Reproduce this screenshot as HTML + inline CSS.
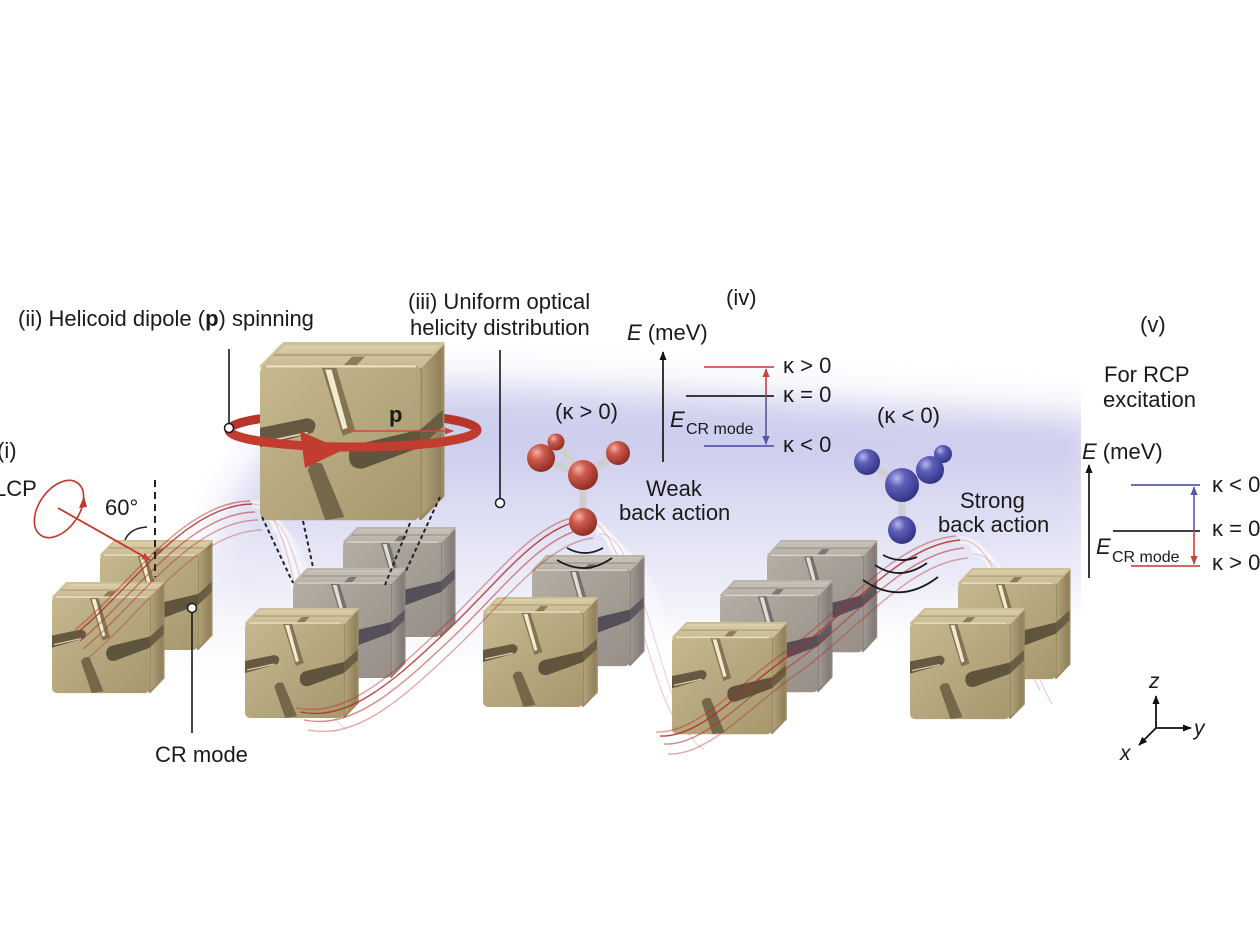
<!DOCTYPE html>
<html><head><meta charset="utf-8"><style>html,body{margin:0;padding:0;background:#fff}svg{display:block}</style></head>
<body>
<svg width="1260" height="946" viewBox="0 0 1260 946" xmlns="http://www.w3.org/2000/svg" xmlns:xlink="http://www.w3.org/1999/xlink" font-family="'Liberation Sans', Arial, sans-serif" fill="#1a1a1a">
<defs>
 <linearGradient id="cF" x1="0" y1="0" x2="1" y2="1"><stop offset="0" stop-color="#c6b88f"/><stop offset="1" stop-color="#a6976d"/></linearGradient>
 <linearGradient id="cT" x1="0" y1="0" x2="0" y2="1"><stop offset="0" stop-color="#dbd0ab"/><stop offset="1" stop-color="#c8ba92"/></linearGradient>
 <linearGradient id="cR" x1="0" y1="0" x2="1" y2="0"><stop offset="0" stop-color="#b3a47b"/><stop offset="1" stop-color="#8c7d57"/></linearGradient>
 <radialGradient id="rs" cx="0.35" cy="0.3" r="0.75"><stop offset="0" stop-color="#f2b0a4"/><stop offset="0.35" stop-color="#cd5b4d"/><stop offset="1" stop-color="#8a2a22"/></radialGradient>
 <radialGradient id="bs" cx="0.35" cy="0.3" r="0.75"><stop offset="0" stop-color="#b4b6ee"/><stop offset="0.35" stop-color="#5d5fb8"/><stop offset="1" stop-color="#2f3183"/></radialGradient>
 <linearGradient id="hz" gradientUnits="userSpaceOnUse" x1="0" y1="360" x2="0" y2="670">
  <stop offset="0" stop-color="#c4c4ea" stop-opacity="0.5"/>
  <stop offset="0.22" stop-color="#c4c4ea" stop-opacity="0.9"/>
  <stop offset="0.45" stop-color="#d0d0ef" stop-opacity="0.8"/>
  <stop offset="0.75" stop-color="#e3e3f5" stop-opacity="0.6"/>
  <stop offset="1" stop-color="#f6f6fc" stop-opacity="0.1"/>
 </linearGradient>
 <filter id="blur" x="-20%" y="-30%" width="140%" height="160%"><feGaussianBlur stdDeviation="18"/></filter>
 <filter id="gray"><feColorMatrix type="matrix" values="0.572 0.246 0.062 0 0  0.132 0.686 0.062 0 0  0.132 0.246 0.502 0 0.04  0 0 0 1 0"/></filter>
 <clipPath id="hc"><rect x="0" y="0" width="1081" height="946"/></clipPath>
 <marker id="aK" viewBox="0 0 10 10" refX="9" refY="5" markerWidth="9" markerHeight="9" markerUnits="userSpaceOnUse" orient="auto"><path d="M0,1 L10,5 L0,9 z" fill="#111"/></marker>
 <marker id="aR" viewBox="0 0 10 10" refX="9" refY="5" markerWidth="9" markerHeight="9" markerUnits="userSpaceOnUse" orient="auto"><path d="M0,1 L10,5 L0,9 z" fill="#c8433a"/></marker>
 <marker id="aB" viewBox="0 0 10 10" refX="9" refY="5" markerWidth="9" markerHeight="9" markerUnits="userSpaceOnUse" orient="auto"><path d="M0,1 L10,5 L0,9 z" fill="#5456a8"/></marker>

 <g id="cube">
  <path d="M101,15 L115,1 L115,95 L101,109 Z" fill="url(#cR)" stroke="#9a8b63" stroke-width="2" stroke-linejoin="round"/>
  <path d="M1,15 L15,1 L115,1 L101,15 Z" fill="url(#cT)" stroke="#cdbf97" stroke-width="2" stroke-linejoin="round"/>
  <rect x="0" y="14" width="101" height="96" rx="5" fill="url(#cF)"/>
  <path d="M9,8 L108,8" stroke="#b3a47b" stroke-width="1.5"/>
  <path d="M52,15 L58,9 L66,9 L60,15 Z" fill="#8c7d58"/>
  <path d="M39,16 L48,16 L60,55 L52,58 Z" fill="#847551"/>
  <path d="M41,17 L45,17 L55,53 L52,54 Z" fill="#f2ead0"/>
  <path d="M0,53 L30,47 Q38,49 33,56 L0,65 Z" fill="#655941"/>
  <path d="M2,62 L30,56" stroke="#d9cfae" stroke-width="1.2"/>
  <path d="M56,72 Q55,65 62,63 L101,54 L101,65 L65,78 Q57,79 56,72 Z" fill="#5f543c"/>
  <path d="M101,54 L115,42 L115,52 L101,65 Z" fill="#695d43"/>
  <path d="M30,79 Q32,73 39,75 L53,108 L41,110 Z" fill="#74674a"/>
  <path d="M4,15 L98,15" stroke="#e8dfc0" stroke-width="1.5"/>
 </g>

 <path id="r1" d="M77,633 C130,590 185,505 252,504"/>
 <path id="r2" d="M300,712 C350,722 395,680 450,628 C500,580 540,525 585,520"/>
 <path id="r3" d="M660,736 C700,738 740,690 790,655 C850,612 900,545 960,540"/>
 <path id="f1" d="M252,504 C300,502 300,700 335,716"/>
 <path id="f2" d="M585,520 C630,516 650,720 690,735"/>
 <path id="f3" d="M960,540 C1000,538 1010,640 1040,690"/>
</defs>

<rect width="1260" height="946" fill="#fff"/>

<!-- haze -->
<g clip-path="url(#hc)">
 <path d="M160,660 L230,500 L290,425 L440,380 L700,392 L1100,418 L1100,595 L800,625 L500,650 L300,665 Z" fill="url(#hz)" filter="url(#blur)"/>
</g>

<!-- faint falling ribbons -->
<g fill="none">
 <use href="#f1" stroke="#fff" stroke-width="8" opacity=".45"/>
 <use href="#f1" transform="translate(10,12)" stroke="#fff" stroke-width="8" opacity=".4"/>
 <use href="#f1" transform="translate(20,24)" stroke="#fff" stroke-width="8" opacity=".35"/>
 <use href="#f2" stroke="#fff" stroke-width="8" opacity=".5"/>
 <use href="#f2" transform="translate(12,12)" stroke="#fff" stroke-width="8" opacity=".45"/>
 <use href="#f2" transform="translate(24,24)" stroke="#fff" stroke-width="8" opacity=".4"/>
 <use href="#f2" transform="translate(36,36)" stroke="#fff" stroke-width="8" opacity=".35"/>
 <use href="#f3" stroke="#fff" stroke-width="8" opacity=".45"/>
 <use href="#f3" transform="translate(12,12)" stroke="#fff" stroke-width="8" opacity=".4"/>
 <use href="#f1" stroke="#c04040" stroke-width="1" opacity=".3"/>
 <use href="#f1" transform="translate(10,12)" stroke="#c04040" stroke-width="1" opacity=".25"/>
 <use href="#f2" stroke="#c04040" stroke-width="1" opacity=".3"/>
 <use href="#f2" transform="translate(14,14)" stroke="#c04040" stroke-width="1" opacity=".25"/>
 <use href="#f3" stroke="#c04040" stroke-width="1" opacity=".35"/>
 <use href="#f3" transform="translate(12,14)" stroke="#c04040" stroke-width="1" opacity=".3"/>
</g>

<!-- back cubes -->
<use href="#cube" transform="translate(100,540) scale(0.97,1)"/>
<use href="#cube" transform="translate(343,527) scale(0.97,1)" filter="url(#gray)"/>
<use href="#cube" transform="translate(293,568) scale(0.97,1)" filter="url(#gray)"/>
<use href="#cube" transform="translate(532,555) scale(0.97,1.01)" filter="url(#gray)"/>
<use href="#cube" transform="translate(767,540) scale(0.95,1.02)" filter="url(#gray)"/>
<use href="#cube" transform="translate(720,580) scale(0.97,1.02)" filter="url(#gray)"/>
<use href="#cube" transform="translate(958,568) scale(0.97,1.01)"/>

<!-- front cubes -->
<use href="#cube" transform="translate(52,582) scale(0.97,1.01)"/>
<use href="#cube" transform="translate(245,608) scale(0.98,1)"/>
<use href="#cube" transform="translate(483,597) scale(0.99,1)"/>
<use href="#cube" transform="translate(672,622) scale(0.99,1.02)"/>
<use href="#cube" transform="translate(910,608) scale(0.99,1.01)"/>

<!-- ring back + big cube + ring front -->
<ellipse cx="353" cy="430" rx="124" ry="17" fill="none" stroke="#b8352a" stroke-width="9"/>
<use href="#cube" transform="translate(260,342) scale(1.59,1.62)"/>
<path d="M229,430 A124,17 0 0,0 477,430" fill="none" stroke="#c23d2f" stroke-width="9"/>
<polygon points="300,431 305,468 343,450" fill="#c23d2f"/>
<line x1="347" y1="431" x2="453" y2="431" stroke="#cf4a3c" stroke-width="1.6" marker-end="url(#aR)"/>
<text x="389" y="422" font-size="22" font-weight="bold">p</text>

<!-- dashed connectors -->
<g stroke="#222" stroke-width="2" stroke-dasharray="4 3">
 <line x1="262" y1="517" x2="293" y2="583"/>
 <line x1="303" y1="521" x2="313" y2="567"/>
 <line x1="410" y1="523" x2="385" y2="585"/>
 <line x1="440" y1="497" x2="405" y2="573"/>
</g>

<!-- rising red wave bundles -->
<g fill="none" stroke="#b52a25" stroke-width="1.4">
 <use href="#r1" opacity=".85"/>
 <use href="#r1" transform="translate(3,8)" opacity=".55"/>
 <use href="#r1" transform="translate(6,16)" opacity=".45"/>
 <use href="#r1" transform="translate(10,26)" opacity=".35"/>
 <use href="#r1" transform="translate(-2,-3)" opacity=".5"/>
 <use href="#r2" opacity=".85"/>
 <use href="#r2" transform="translate(4,8)" opacity=".55"/>
 <use href="#r2" transform="translate(8,18)" opacity=".4"/>
 <use href="#r2" transform="translate(-4,-4)" opacity=".45"/>
 <use href="#r3" opacity=".85"/>
 <use href="#r3" transform="translate(4,8)" opacity=".55"/>
 <use href="#r3" transform="translate(8,18)" opacity=".4"/>
 <use href="#r3" transform="translate(-4,-4)" opacity=".45"/>
</g>

<!-- red molecule -->
<g stroke="#cfcfcf" stroke-width="7" stroke-linecap="round">
 <line x1="583" y1="475" x2="541" y2="458"/>
 <line x1="583" y1="475" x2="556" y2="442"/>
 <line x1="583" y1="475" x2="618" y2="453"/>
 <line x1="583" y1="475" x2="583" y2="522"/>
</g>
<circle cx="556" cy="442" r="8.5" fill="url(#rs)"/>
<circle cx="618" cy="453" r="12" fill="url(#rs)"/>
<circle cx="541" cy="458" r="14" fill="url(#rs)"/>
<circle cx="583" cy="475" r="15" fill="url(#rs)"/>
<circle cx="583" cy="522" r="14" fill="url(#rs)"/>

<!-- blue molecule -->
<g stroke="#cfcfcf" stroke-width="7" stroke-linecap="round">
 <line x1="902" y1="485" x2="867" y2="462"/>
 <line x1="902" y1="485" x2="930" y2="470"/>
 <line x1="902" y1="485" x2="902" y2="530"/>
</g>
<circle cx="943" cy="454" r="9" fill="url(#bs)"/>
<circle cx="930" cy="470" r="14" fill="url(#bs)"/>
<circle cx="867" cy="462" r="13" fill="url(#bs)"/>
<circle cx="902" cy="485" r="17" fill="url(#bs)"/>
<circle cx="902" cy="530" r="14" fill="url(#bs)"/>

<!-- back-action arcs -->
<g fill="none" stroke="#1a1a1a" stroke-width="1.8">
 <path d="M567,548 Q585,558 603,548"/>
 <path d="M557,560 Q585,577 612,558"/>
 <path d="M883,555 Q900,564 917,557"/>
 <path d="M875,565 Q900,582 927,563"/>
 <path d="M863,580 Q900,606 938,577"/>
</g>

<!-- leader lines -->
<g stroke="#1a1a1a" stroke-width="1.6">
 <line x1="229" y1="349" x2="229" y2="424"/>
 <line x1="500" y1="350" x2="500" y2="499"/>
 <line x1="192" y1="612" x2="192" y2="733"/>
</g>
<g fill="#fff" stroke="#1a1a1a" stroke-width="1.5">
 <circle cx="229" cy="428" r="4.5"/>
 <circle cx="500" cy="503" r="4.5"/>
 <circle cx="192" cy="608" r="4.5"/>
</g>

<!-- (i) LCP -->
<ellipse cx="59" cy="509" rx="32" ry="20" transform="rotate(-55 59 509)" fill="none" stroke="#c0392b" stroke-width="1.6"/>
<polygon points="79,508 87,507 84,496" fill="#c0392b"/>
<line x1="58" y1="508" x2="150" y2="560" stroke="#c0392b" stroke-width="1.8" marker-end="url(#aR)"/>
<line x1="155" y1="480" x2="155" y2="577" stroke="#222" stroke-width="2" stroke-dasharray="7 5"/>
<path d="M125,540 Q130,528 147,527" fill="none" stroke="#222" stroke-width="1.6"/>

<!-- energy diagram (iv) -->
<line x1="663" y1="462" x2="663" y2="352" stroke="#222" stroke-width="1.8" marker-end="url(#aK)"/>
<line x1="704" y1="367" x2="774" y2="367" stroke="#d05050" stroke-width="1.8"/>
<line x1="686" y1="396" x2="774" y2="396" stroke="#222" stroke-width="1.8"/>
<line x1="704" y1="446" x2="774" y2="446" stroke="#5a5ab0" stroke-width="1.8"/>
<line x1="766" y1="396" x2="766" y2="369" stroke="#c8433a" stroke-width="1.6" marker-end="url(#aR)"/>
<line x1="766" y1="396" x2="766" y2="444" stroke="#5456a8" stroke-width="1.6" marker-end="url(#aB)"/>

<!-- energy diagram (v) -->
<line x1="1089" y1="578" x2="1089" y2="465" stroke="#222" stroke-width="1.8" marker-end="url(#aK)"/>
<line x1="1131" y1="485" x2="1200" y2="485" stroke="#5a5ab0" stroke-width="1.8"/>
<line x1="1113" y1="531" x2="1200" y2="531" stroke="#222" stroke-width="1.8"/>
<line x1="1131" y1="566" x2="1200" y2="566" stroke="#d05050" stroke-width="1.8"/>
<line x1="1194" y1="531" x2="1194" y2="487" stroke="#5456a8" stroke-width="1.6" marker-end="url(#aB)"/>
<line x1="1194" y1="531" x2="1194" y2="564" stroke="#c8433a" stroke-width="1.6" marker-end="url(#aR)"/>

<!-- axes -->
<g stroke="#111" stroke-width="1.8">
 <line x1="1156" y1="728" x2="1156" y2="696" marker-end="url(#aK)"/>
 <line x1="1156" y1="728" x2="1191" y2="728" marker-end="url(#aK)"/>
 <line x1="1156" y1="728" x2="1139" y2="745" marker-end="url(#aK)"/>
</g>

<!-- text -->
<g font-size="22">
 <text x="18" y="326">(ii) Helicoid dipole (<tspan font-weight="bold">p</tspan>) spinning</text>
 <text x="408" y="309">(iii) Uniform optical</text>
 <text x="410" y="335">helicity distribution</text>
 <text x="726" y="305">(iv)</text>
 <text x="627" y="340"><tspan font-style="italic">E</tspan> (meV)</text>
 <text x="783" y="373">κ &gt; 0</text>
 <text x="783" y="402">κ = 0</text>
 <text x="783" y="452">κ &lt; 0</text>
 <text x="670" y="427" font-style="italic">E</text>
 <text x="686" y="434" font-size="16">CR mode</text>
 <text x="555" y="419">(κ &gt; 0)</text>
 <text x="877" y="423">(κ &lt; 0)</text>
 <text x="646" y="496">Weak</text>
 <text x="619" y="520">back action</text>
 <text x="960" y="508">Strong</text>
 <text x="938" y="532">back action</text>
 <text x="1140" y="332">(v)</text>
 <text x="1104" y="382">For RCP</text>
 <text x="1103" y="407">excitation</text>
 <text x="1082" y="459"><tspan font-style="italic">E</tspan> (meV)</text>
 <text x="1212" y="492">κ &lt; 0</text>
 <text x="1212" y="536">κ = 0</text>
 <text x="1212" y="570">κ &gt; 0</text>
 <text x="1096" y="554" font-style="italic">E</text>
 <text x="1112" y="562" font-size="16">CR mode</text>
 <text x="-3" y="458">(i)</text>
 <text x="-6" y="496">LCP</text>
 <text x="105" y="515">60°</text>
 <text x="155" y="762">CR mode</text>
 <text x="1149" y="688" font-style="italic" font-size="21">z</text>
 <text x="1194" y="735" font-style="italic" font-size="21">y</text>
 <text x="1120" y="760" font-style="italic" font-size="21">x</text>
</g>
</svg>
</body></html>
